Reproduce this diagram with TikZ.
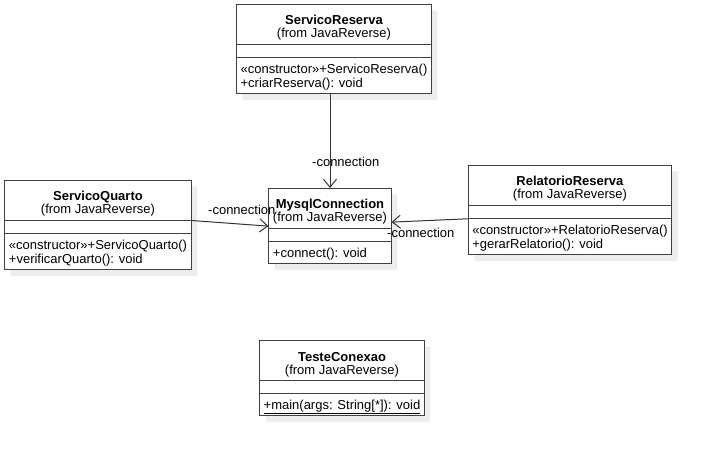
\documentclass[tikz,border=0pt]{standalone}
\usepackage{fontspec}
\setmainfont{Liberation Sans}
\usetikzlibrary{arrows.meta}
\usetikzlibrary{shapes.multipart, shadows}

\newcommand{\umltitle}[1]{\raisebox{0pt}[\height][\dimexpr\depth-2pt\relax]{\begin{tabular}[t]{@{}c@{}}\rule{0pt}{16.5pt}\textbf{#1}\\[-2pt](from JavaReverse)\end{tabular}}}
\newcommand{\umlops}[1]{\raisebox{0pt}[\height][\dimexpr\depth-2pt\relax]{\begin{tabular}[t]{@{}l@{}}\rule{0pt}{11.5pt}#1\end{tabular}}}

\begin{document}
\begin{tikzpicture}[x=1pt, y=1pt, font=\fontsize{13}{15}\selectfont,
					>={Straight Barb[length=8pt,width=13pt]},
					every node/.style = {inner sep=0pt}]

\tikzstyle{umlclass}=[rectangle split, rectangle split parts=3, draw=black!75, line width=1pt,
	fill=white, anchor=north, rectangle split part align={center,left,left},
	rectangle split empty part height=3pt, rectangle split empty part depth=0pt,
	inner xsep=4pt, inner ysep=3.5pt,
	drop shadow={shadow xshift=6pt, shadow yshift=-6pt, fill=black!7, opacity=1}]
\tikzstyle{assoc}=[->, draw=black!80, line width=1pt]
\tikzstyle{role}=[anchor=west]

\useasboundingbox (0,0) rectangle (704,-449);

\node[umlclass] (reserva) at (334,-4) {\umltitle{ServicoReserva} \nodepart{two} \nodepart{three} \umlops{«constructor»+ServicoReserva()\\[-1pt]+criarReserva(): void}};
\node[umlclass] (quarto) at (98,-180) {\umltitle{ServicoQuarto} \nodepart{two} \nodepart{three} \umlops{«constructor»+ServicoQuarto()\\[-1pt]+verificarQuarto(): void}};
\node[umlclass] (mysql) at (330,-188) {\umltitle{MysqlConnection} \nodepart{two} \nodepart{three} \umlops{+connect(): void}};
\node[umlclass] (relatorio) at (570,-165) {\umltitle{RelatorioReserva} \nodepart{two} \nodepart{three} \umlops{«constructor»+RelatorioReserva()\\[-1pt]+gerarRelatorio(): void}};
\node[umlclass] (teste) at (342,-340) {\umltitle{TesteConexao} \nodepart{two} \nodepart{three} \umlops{\underline{+main(args: String[*]): void}}};

% associations
\node[role] (rolereserva) at (312,-162) {-connection};
\node[role] (rolequarto) at (208,-210) {-connection};
\node[role] (rolerelatorio) at (387,-233) {-connection};

\draw[assoc] (mysql.north |- reserva.south) -- (mysql.north);
\draw[assoc] (quarto.one split east) -- (mysql.west);
\draw[assoc] (relatorio.two split west) -- ([yshift=4pt]mysql.east);
\end{tikzpicture}
\end{document}
